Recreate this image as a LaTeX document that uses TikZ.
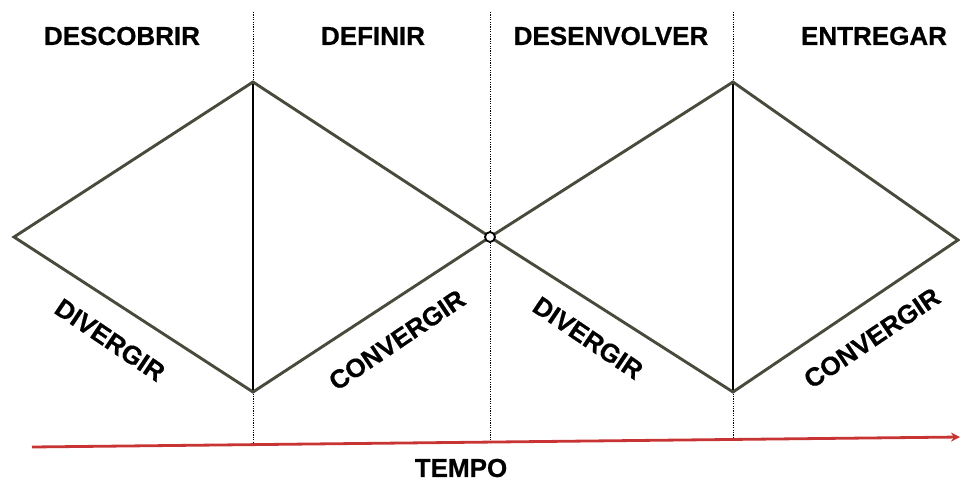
\documentclass[tikz,border=0pt]{standalone}
\usepackage{fontspec}
\setmainfont{Liberation Sans}[BoldFeatures={FakeBold=0.6}]
\usetikzlibrary{arrows.meta}
\definecolor{edgecol}{HTML}{4A4A3C}
\definecolor{arrowred}{HTML}{C83434}
\tikzset{
  edge/.style={draw=edgecol, line width=2.9pt, line join=miter},
  axis/.style={draw=black, line width=1.5pt},
  guide/.style={draw=black, line width=0.9pt, dash pattern=on 1.2pt off 1.2pt},
  phase/.style={font=\fontsize{26}{28}\selectfont\bfseries, inner sep=0pt},
  mode/.style={font=\fontsize{26}{28}\selectfont\bfseries, inner sep=0pt},
  timearrow/.style={draw=arrowred, line width=2.8pt, -{Stealth[length=9pt,width=9pt]}},
  joint/.style={circle, draw=black, line width=1.8pt, fill=white, minimum size=10pt, inner sep=0pt}
}
\begin{document}
\begin{tikzpicture}[x=1pt, y=-1pt]
\useasboundingbox[fill=white] (0,0) rectangle (960,482);
% vertices
\coordinate (L1) at (14,237);
\coordinate (T1) at (253,82);
\coordinate (B1) at (253,392);
\coordinate (T2) at (733,82);
\coordinate (B2) at (733,392);
\coordinate (R2) at (958,240);
% guide ends
\coordinate (g1t) at (253,12);
\coordinate (g1b) at (253,442);
\coordinate (g2t) at (490,12);
\coordinate (g2b) at (490,444);
\coordinate (g3t) at (733,12);
\coordinate (g3b) at (733,440);
% arrow ends
\coordinate (a0) at (32,447);
\coordinate (a1) at (960,437);
% dotted guides
\draw[guide] (g1t) -- (g1b);
\draw[guide] (g2t) -- (g2b);
\draw[guide] (g3t) -- (g3b);
% vertical solid lines
\draw[axis] (T1) -- (B1);
\draw[axis] (T2) -- (B2);
% diamonds
\coordinate (M) at (490,237);
\draw[edge] (M) -- (T1) -- (L1) -- (B1) -- cycle;
\draw[edge] (M) -- (T2) -- (R2) -- (B2) -- cycle;
\node[joint] (mid) at (M) {};
% time arrow
\draw[timearrow] (a0) -- (a1);
% phase labels
\node[phase] (p1) at (122,36) {DESCOBRIR};
\node[phase] (p2) at (373,36) {DEFINIR};
\node[phase] (p3) at (611,36) {DESENVOLVER};
\node[phase] (p4) at (874,36) {ENTREGAR};
\node[phase] (tempo) at (461,468) {TEMPO};
% mode labels
\node[mode, rotate=-34] (d1) at (110,340) {DIVERGIR};
\node[mode, rotate=34] (c1) at (397,340) {CONVERGIR};
\node[mode, rotate=-34] (d2) at (588,338) {DIVERGIR};
\node[mode, rotate=34] (c2) at (872,338) {CONVERGIR};
\end{tikzpicture}
\end{document}
